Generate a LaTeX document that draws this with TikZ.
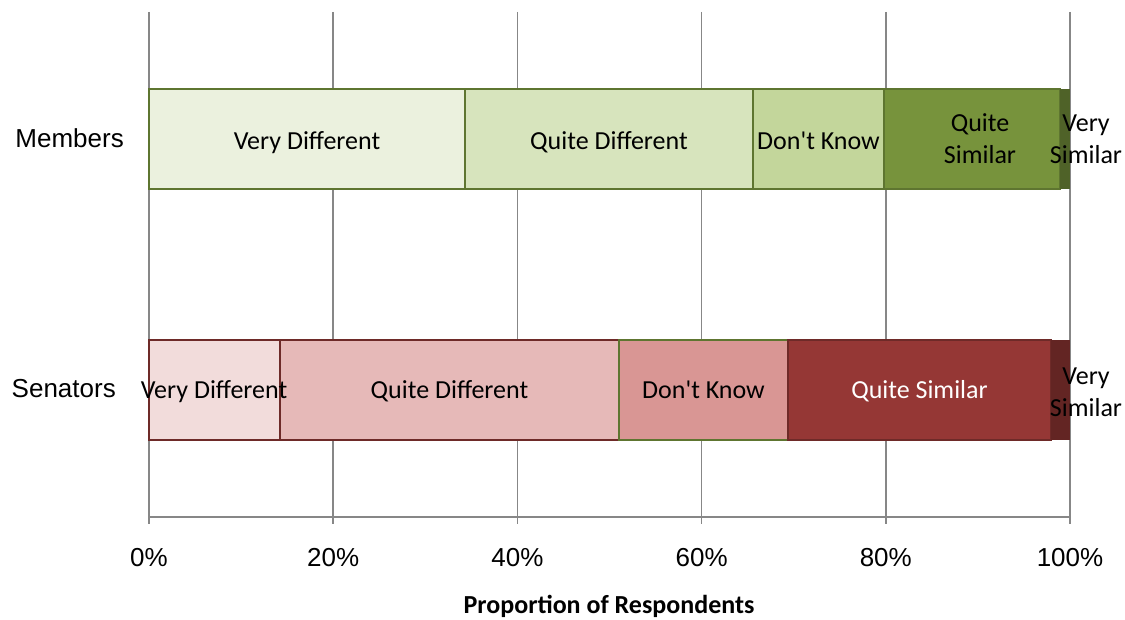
\documentclass[tikz,border=0pt]{standalone}
\usepackage{fontspec}
\setmainfont{Carlito}
\newfontfamily\arialf{Liberation Sans}
\definecolor{gridc}{HTML}{878787}
\definecolor{mA}{HTML}{EBF1DE}
\definecolor{mB}{HTML}{D7E4BD}
\definecolor{mC}{HTML}{C3D69B}
\definecolor{mD}{HTML}{77933C}
\definecolor{mE}{HTML}{4F6228}
\definecolor{mLine}{HTML}{5E7530}
\definecolor{sA}{HTML}{F2DCDB}
\definecolor{sB}{HTML}{E6B9B8}
\definecolor{sC}{HTML}{D99694}
\definecolor{sD}{HTML}{953735}
\definecolor{sE}{HTML}{632523}
\definecolor{sLine}{HTML}{6E2A28}
\tikzset{
  gridline/.style={draw=gridc, line width=1.6pt},
  mseg/.style={draw=mLine, line width=1.6pt},
  sseg/.style={draw=sLine, line width=1.6pt},
  barlabel/.style={font=\fontsize{26}{31.5}\selectfont, align=center, inner sep=0pt, anchor=base},
  axlabel/.style={font=\arialf\fontsize{26}{30}\selectfont, inner sep=0pt, anchor=base},
  titlelabel/.style={font=\bfseries\fontsize{26}{30}\selectfont, inner sep=0pt, anchor=base}
}
\begin{document}
\begin{tikzpicture}[x=1pt,y=-1pt]
\useasboundingbox (0,0) rectangle (1125,620);
% grid
\foreach \gx in {149,333.2,517.4,701.6,885.8,1070} {
  \draw[gridline] (\gx,12) -- (\gx,524);
}
\draw[gridline] (149,517) -- (1070,517);
% Members bar
\path[mseg, fill=mA] (149,89) rectangle (465,189);
\path[mseg, fill=mB] (465,89) rectangle (753,189);
\path[mseg, fill=mC] (753,89) rectangle (884,189);
\path[mseg, fill=mD] (884,89) rectangle (1060,189);
\path[fill=mE] (1060,89) rectangle (1070,189);
% Senators bar
\path[sseg, fill=sA] (149,340) rectangle (280,440);
\path[sseg, fill=sB] (280,340) rectangle (619,440);
\path[draw=mLine, line width=1.6pt, fill=sC] (619,340) rectangle (788,440);
\path[sseg, fill=sD] (788,340) rectangle (1051,440);
\path[fill=sE] (1051,340) rectangle (1070,440);
% category labels
\node[axlabel, anchor=base east] (members) at (124,148) {Members};
\node[axlabel, anchor=base east] (senators) at (116,398) {Senators};
% bar labels members
\node[barlabel] (mvd) at (307,149.5) {Very Different};
\node[barlabel] (mqd) at (609,149.5) {Quite Different};
\node[barlabel] (mdk) at (818.5,149.5) {Don\textquotesingle t Know};
\node[barlabel] (mqs) at (980,163.5) {Quite\\Similar};
\node[barlabel] (mvs) at (1086,163.5) {Very\\Similar};
% bar labels senators
\node[barlabel] (svd) at (214,398.5) {Very Different};
\node[barlabel] (sqd) at (449.5,398.5) {Quite Different};
\node[barlabel] (sdk) at (703.5,398.5) {Don\textquotesingle t Know};
\node[barlabel, text=white] (sqs) at (919.5,398.5) {Quite Similar};
\node[barlabel] (svs) at (1086,416) {Very\\Similar};
% axis labels
\node[axlabel] (p0) at (149,566) {0\%};
\node[axlabel] (p20) at (333.2,566) {20\%};
\node[axlabel] (p40) at (517.4,566) {40\%};
\node[axlabel] (p60) at (701.6,566) {60\%};
\node[axlabel] (p80) at (885.8,566) {80\%};
\node[axlabel] (p100) at (1070,566) {100\%};
\node[titlelabel] (title) at (609,613) {Proportion of Respondents};
\end{tikzpicture}
\end{document}
